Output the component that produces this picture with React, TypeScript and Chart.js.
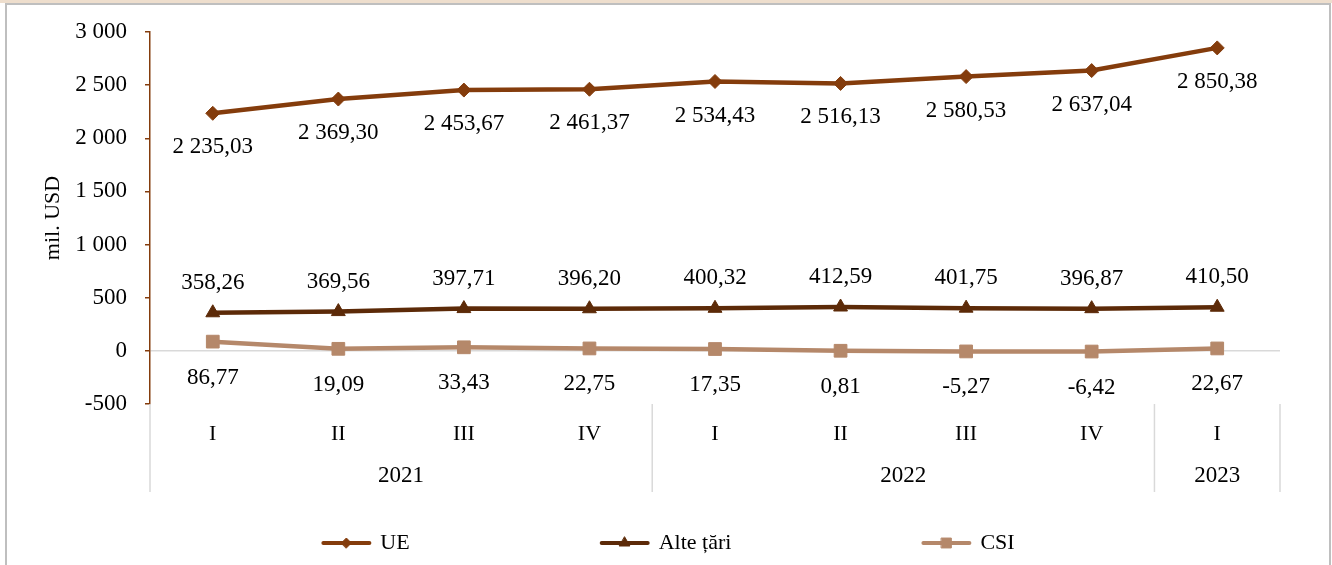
import React, { useEffect, useRef } from "react";
import { Chart, registerables } from "chart.js";
import { drawPoint } from "chart.js/helpers";

Chart.register(...registerables);

const categories = ["I", "II", "III", "IV", "I", "II", "III", "IV", "I"];
const yearLabels = ["2021", "2022", "2023"];
const yearSpans = [4, 4, 1];

const seriesNames = ["UE", "Alte țări", "CSI"];
const ueValues = [2235.03, 2369.3, 2453.67, 2461.37, 2534.43, 2516.13, 2580.53, 2637.04, 2850.38];
const alteValues = [358.26, 369.56, 397.71, 396.2, 400.32, 412.59, 401.75, 396.87, 410.5];
const csiValues = [86.77, 19.09, 33.43, 22.75, 17.35, 0.81, -5.27, -6.42, 22.67];

const yMin = -500;
const yMax = 3000;
const yStep = 500;

const FONT_FAMILY = '"Liberation Serif", "Times New Roman", serif';
const FONT_SIZE = 22;
const NUM_FONT_SIZE = 23;
const COLORS = { ue: "#843C0C", alte: "#5C2A08", csi: "#B5886A" };
const AXIS_COLOR = "#843C0C";
const GRID_GRAY = "#D9D9D9";

function fmt(v: number, dec: number): string {
  const s = Math.abs(v).toFixed(dec);
  const [intPart, frac] = s.split(".");
  const intS = intPart.replace(/\B(?=(\d{3})+(?!\d))/g, " ");
  return (v < 0 ? "-" : "") + intS + (frac ? "," + frac : "");
}

const dataLabelPlugin = {
  id: "dataLabels",
  afterDatasetsDraw(chart: any) {
    const ctx = chart.ctx;
    ctx.save();
    ctx.font = `${NUM_FONT_SIZE}px ${FONT_FAMILY}`;
    ctx.fillStyle = "#000";
    ctx.textAlign = "center";
    ctx.textBaseline = "middle";
    chart.data.datasets.forEach((ds: any, di: number) => {
      const meta = chart.getDatasetMeta(di);
      meta.data.forEach((pt: any, i: number) => {
        ctx.fillText(fmt(ds.data[i], 2), pt.x, pt.y + ds.labelOffset);
      });
    });
    ctx.restore();
  },
};

const categoryAxisPlugin = {
  id: "categoryAxis",
  afterDraw(chart: any) {
    const ctx = chart.ctx;
    const x = chart.scales.x;
    const area = chart.chartArea;
    const n = categories.length;
    const step = n > 1 ? x.getPixelForValue(1) - x.getPixelForValue(0) : area.right - area.left;
    const bottom = area.bottom + 88;
    ctx.save();
    ctx.font = `${FONT_SIZE}px ${FONT_FAMILY}`;
    ctx.fillStyle = "#000";
    ctx.textAlign = "center";
    ctx.textBaseline = "middle";
    categories.forEach((c, i) => {
      ctx.fillText(c, x.getPixelForValue(i), area.bottom + 30);
    });
    ctx.strokeStyle = GRID_GRAY;
    ctx.lineWidth = 1.5;
    let start = 0;
    const boundaries: number[] = [x.getPixelForValue(0) - step / 2];
    ctx.font = `${NUM_FONT_SIZE}px ${FONT_FAMILY}`;
    yearLabels.forEach((y, gi) => {
      const end = start + yearSpans[gi] - 1;
      const left = x.getPixelForValue(start) - step / 2;
      const right = x.getPixelForValue(end) + step / 2;
      boundaries.push(right);
      ctx.fillText(y, (left + right) / 2, area.bottom + 72);
      start = end + 1;
    });
    boundaries.forEach((bx) => {
      ctx.beginPath();
      ctx.moveTo(bx, area.bottom);
      ctx.lineTo(bx, bottom);
      ctx.stroke();
    });
    ctx.restore();
  },
};

const legendPlugin = {
  id: "customLegend",
  afterDraw(chart: any) {
    const ctx = chart.ctx;
    ctx.save();
    ctx.font = `${FONT_SIZE}px ${FONT_FAMILY}`;
    const lineW = 50;
    const textGap = 9;
    const gap = 190;
    const items = chart.data.datasets.map((ds: any) => ({
      ds,
      w: lineW + textGap + ctx.measureText(ds.label).width,
    }));
    const total = items.reduce((a: number, it: any) => a + it.w, 0) + gap * (items.length - 1);
    let cx = chart.width / 2 - total / 2 + 2;
    const cy = chart.chartArea.bottom + 139;
    items.forEach((it: any) => {
      const ds = it.ds;
      ctx.strokeStyle = ds.borderColor;
      ctx.lineWidth = 4;
      ctx.lineCap = "round";
      ctx.beginPath();
      ctx.moveTo(cx + 2, cy);
      ctx.lineTo(cx + lineW - 2, cy);
      ctx.stroke();
      ctx.fillStyle = ds.borderColor;
      ctx.lineWidth = 1;
      drawPoint(ctx, { pointStyle: ds.pointStyle, radius: ds.legendRadius, rotation: 0, borderWidth: 1 } as any, cx + lineW / 2, cy);
      ctx.fillStyle = "#000";
      ctx.textAlign = "left";
      ctx.textBaseline = "middle";
      ctx.fillText(ds.label, cx + lineW + textGap, cy);
      cx += it.w + gap;
    });
    ctx.restore();
  },
};

export default function App() {
  const canvasRef = useRef<HTMLCanvasElement | null>(null);

  useEffect(() => {
    if (!canvasRef.current) return;
    const chart = new Chart(canvasRef.current, {
      type: "line",
      data: {
        labels: categories,
        datasets: [
          {
            label: seriesNames[0],
            data: ueValues,
            borderColor: COLORS.ue,
            backgroundColor: COLORS.ue,
            borderWidth: 4.5,
            pointStyle: "rectRot",
            pointRadius: 7,
            pointBorderWidth: 1,
            labelOffset: 34,
            legendRadius: 5,
          } as any,
          {
            label: seriesNames[1],
            data: alteValues,
            borderColor: COLORS.alte,
            backgroundColor: COLORS.alte,
            borderWidth: 4.5,
            pointStyle: "triangle",
            pointRadius: 8,
            pointBorderWidth: 1,
            labelOffset: -30,
            legendRadius: 6,
          } as any,
          {
            label: seriesNames[2],
            data: csiValues,
            borderColor: COLORS.csi,
            backgroundColor: COLORS.csi,
            borderWidth: 4.5,
            pointStyle: "rect",
            pointRadius: 9,
            pointBorderWidth: 1,
            labelOffset: 36,
            legendRadius: 7,
          } as any,
        ],
      },
      options: {
        responsive: false,
        animation: false,
        layout: { padding: { left: 40, right: 52, top: 32, bottom: 161 } },
        plugins: {
          legend: { display: false },
          tooltip: { enabled: false },
        },
        scales: {
          x: {
            type: "category",
            display: false,
            offset: true,
          },
          y: {
            min: yMin,
            max: yMax,
            ticks: {
              stepSize: yStep,
              padding: 18,
              color: "#000",
              font: { family: FONT_FAMILY, size: NUM_FONT_SIZE },
              callback: (v: any) => fmt(Number(v), 0),
            },
            grid: {
              drawOnChartArea: true,
              drawTicks: true,
              tickLength: 5,
              tickColor: AXIS_COLOR,
              lineWidth: 1.5,
              color: (c: any) => (c.tick && c.tick.value === 0 ? GRID_GRAY : "rgba(0,0,0,0)"),
            },
            border: { display: true, color: AXIS_COLOR, width: 1.5 },
            title: {
              display: true,
              text: "mil. USD",
              color: "#000",
              font: { family: FONT_FAMILY, size: FONT_SIZE },
              padding: { top: 0, bottom: 0 },
            },
            afterFit: (s: any) => {
              s.width = 110;
            },
          },
        },
      },
      plugins: [dataLabelPlugin, categoryAxisPlugin, legendPlugin],
    });
    return () => chart.destroy();
  }, []);

  return (
    <div style={{ position: "fixed", left: 0, top: 0, width: 1332, height: 565, background: "#fff", overflow: "hidden" }}>
      <div style={{ position: "absolute", left: 0, top: 0, width: 1332, height: 3, background: "#EEDECD" }} />
      <div
        style={{
          position: "absolute",
          left: 5,
          top: 3,
          width: 1326,
          height: 570,
          boxSizing: "border-box",
          borderLeft: "2px solid #BFBFBF",
          borderRight: "2px solid #BFBFBF",
          borderTop: "2px solid #BFBFBF",
        }}
      />
      <canvas ref={canvasRef} width={1332} height={565} style={{ position: "absolute", left: 0, top: 0 }} />
    </div>
  );
}
